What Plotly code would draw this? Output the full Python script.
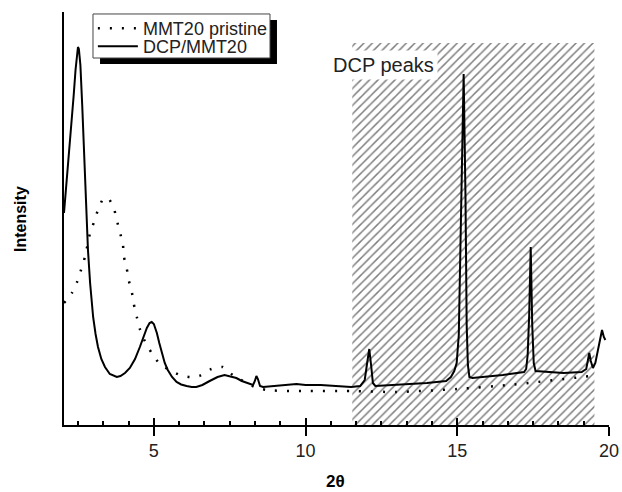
import plotly.graph_objects as go

# ---- data ----
dcp_x = [2.04, 2.12, 2.2, 2.28, 2.36, 2.42, 2.47, 2.5, 2.53, 2.58, 2.64, 2.7, 2.76, 2.83, 2.9,
         2.95, 3.0, 3.08, 3.16, 3.27, 3.39, 3.55, 3.7, 3.78, 3.9, 4.05, 4.21, 4.38, 4.54, 4.66,
         4.77, 4.86, 4.93, 5.0, 5.1, 5.18, 5.26, 5.36, 5.46, 5.6, 5.75, 5.9, 6.08, 6.25, 6.4,
         6.6, 6.84, 7.1, 7.33, 7.5, 7.72, 7.9, 8.1, 8.27, 8.33, 8.38, 8.43, 8.5, 8.6, 9.0,
         9.4, 9.7, 10.0, 10.5, 11.0, 11.5, 11.8, 11.95, 12.03, 12.1, 12.16, 12.22, 12.3, 13.0,
         14.0, 14.63, 14.79, 14.9, 14.98, 15.05, 15.12, 15.21, 15.27, 15.31, 15.35, 15.4, 15.5,
         16.5, 17.2, 17.27, 17.32, 17.37, 17.42, 17.47, 17.52, 17.58, 18.5, 19.1, 19.25, 19.3,
         19.35, 19.4, 19.47, 19.55, 19.65, 19.72, 19.77, 19.83, 19.88]
dcp_y = [212, 240, 270, 300, 330, 355, 372, 378, 376, 360, 320, 270, 220, 175, 142,
         123, 108, 91, 78, 66, 58, 51, 48.5, 48, 49, 52, 57, 66, 78, 88,
         97, 102, 103, 101, 92, 82, 72, 62, 55, 48, 43, 40.5, 39, 38, 38,
         40, 44, 48, 50, 49, 47, 44, 42, 40, 44, 49, 46, 39, 38, 39,
         40, 41, 40, 40, 39, 38, 39, 45, 62, 76, 60, 42, 39, 40,
         42, 44, 48, 54, 62, 90, 200, 351, 230, 100, 60, 48, 47,
         50, 53, 56, 70, 110, 178, 100, 62, 54, 52, 53, 56, 64,
         72, 64, 57, 62, 78, 90, 95, 88, 85]

mmt_x = [2.04, 2.3, 2.47, 2.6, 2.73, 2.9, 3.03, 3.16, 3.33, 3.49, 3.68, 3.78, 3.88, 3.98, 4.01,
         4.11, 4.18, 4.28, 4.34, 4.44, 4.54, 4.7, 4.93, 5.2, 5.86, 6.18, 6.5, 6.9, 7.27, 7.6,
         8.32, 8.72, 9.47, 10.0, 11.5, 13.0, 15.0, 16.7, 19.4]
mmt_y = [122, 132, 143, 155, 168, 192, 203, 215, 226, 227, 217, 205, 193, 181, 169,
         156, 144, 132, 121, 108, 96, 84, 72, 61, 50, 48, 49, 56, 58, 50,
         38, 35, 34, 34, 34, 33, 36, 40, 49]

hatch_x = [11.54, 19.52]
hatch_top = 382
x_range = [2.04, 20]
y_range = [0, 413]
major_ticks = [5, 10, 15, 20]
tick_labels = ["5", "10", "15", "20"]
minor_step = 5 / 6

FONT = "Liberation Sans, Arial, sans-serif"

fig = go.Figure()

# hatched DCP region
fig.add_trace(go.Scatter(
    x=[hatch_x[0], hatch_x[1], hatch_x[1], hatch_x[0], hatch_x[0]],
    y=[0, 0, hatch_top, hatch_top, 0],
    fill="toself", mode="lines", line=dict(width=0),
    fillcolor="rgba(0,0,0,0)",
    fillpattern=dict(shape="/", size=6, solidity=0.25, fgcolor="black", bgcolor="white"),
    showlegend=False, hoverinfo="skip"))

fig.add_trace(go.Scatter(
    x=mmt_x, y=mmt_y, mode="lines", name="MMT20 pristine", legend="legend",
    line=dict(color="black", width=2.5, dash="2px,10px", shape="spline", smoothing=0.6)))

fig.add_trace(go.Scatter(
    x=dcp_x, y=dcp_y, mode="lines", name="DCP/MMT20", legend="legend2",
    line=dict(color="black", width=2)))

# invisible trace for the overlay axis (inside tick marks + labels)
fig.add_trace(go.Scatter(x=x_range, y=[0, 0], xaxis="x2", mode="lines",
                         line=dict(width=0), showlegend=False, hoverinfo="skip", opacity=0))

leg_common = dict(xanchor="left", yanchor="top", bgcolor="rgba(0,0,0,0)",
                  borderwidth=0, font=dict(size=18, family=FONT, color="#222"),
                  itemwidth=40)

fig.update_layout(
    width=622, height=492,
    margin=dict(l=64, r=13, t=12, b=67, autoexpand=False),
    paper_bgcolor="white", plot_bgcolor="white",
    font=dict(family=FONT, color="black", size=18),
    xaxis=dict(range=x_range, showgrid=False, zeroline=False, showline=True, automargin=False,
               linecolor="black", linewidth=2, ticks="outside", ticklen=9, tickwidth=2,
               tickcolor="black", tickmode="array", tickvals=major_ticks,
               showticklabels=False),
    xaxis2=dict(range=x_range, overlaying="x", side="bottom", showgrid=False, zeroline=False,
                showline=False, automargin=False, ticks="inside", ticklen=7, tickwidth=2,
                tickcolor="black", tickmode="array", tickvals=major_ticks, ticktext=tick_labels,
                showticklabels=True, ticklabelstandoff=13,
                tickfont=dict(size=18, family=FONT, color="#222"),
                minor=dict(tickmode="linear", tick0=0, dtick=minor_step, ticks="inside",
                           ticklen=4, tickwidth=1.5, tickcolor="black")),
    yaxis=dict(range=y_range, showgrid=False, zeroline=False, showline=True, automargin=False,
               linecolor="black", linewidth=2, ticks="", showticklabels=False),
    legend=dict(x=0.053, y=1.005, **leg_common),
    legend2=dict(x=0.053, y=0.961, **leg_common),
    shapes=[
        dict(type="rect", xref="paper", yref="paper",
             x0=0.0661, x1=0.3908, y0=0.874, y1=0.9806,
             fillcolor="black", line=dict(width=0), layer="above"),
        dict(type="rect", xref="paper", yref="paper",
             x0=0.0532, x1=0.378, y0=0.8886, y1=0.9952,
             fillcolor="white", line=dict(width=1, color="#444"), layer="above"),
    ],
    annotations=[
        dict(text="DCP peaks", x=12.57, y=360, xref="x", yref="y", showarrow=False,
             font=dict(size=20, family=FONT, color="#222"), bgcolor="white", borderpad=3),
        dict(text="<b>Intensity</b>", x=-0.0789, y=0.4988, xref="paper", yref="paper",
             xanchor="center", yanchor="middle",
             showarrow=False, textangle=-90, font=dict(size=16, family=FONT)),
        dict(text="<b>2θ</b>", x=0.499, y=-0.136, xref="paper", yref="paper",
             xanchor="center", yanchor="middle",
             showarrow=False, font=dict(size=17, family=FONT)),
    ],
)

fig.write_html("out.html", config={"displayModeBar": False},
               post_script="document.body.style.margin='0';document.body.style.overflow='hidden';")
